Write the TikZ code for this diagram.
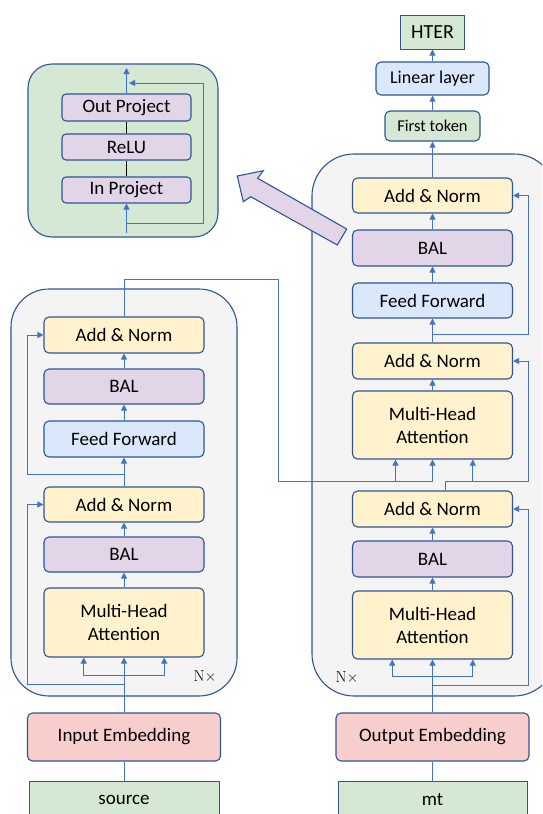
\documentclass[tikz,border=0pt]{standalone}
\usepackage{fontspec}
\setmainfont{Carlito}
\newfontfamily\lmfont{Latin Modern Roman}
\usetikzlibrary{calc}
\usetikzlibrary{arrows.meta}

\definecolor{edgeBlue}{RGB}{47,85,151}
\definecolor{flowBlue}{RGB}{68,114,196}
\definecolor{normYellow}{RGB}{255,242,204}
\definecolor{balPurple}{RGB}{225,213,231}
\definecolor{ffBlue}{RGB}{218,232,252}
\definecolor{embRed}{RGB}{248,206,204}
\definecolor{ioGreen}{RGB}{213,232,212}
\definecolor{stackGray}{RGB}{244,244,244}

\begin{document}
\begin{tikzpicture}[x=1pt,y=-1pt,
    % --- styles ---
    block/.style = {draw=edgeBlue, line width=1.1pt, fill=#1, rounded corners=5pt,
                    minimum width=160pt, minimum height=35pt, inner sep=0pt,
                    align=center, font=\fontsize{19}{23}\selectfont}, % layer box
    tag/.style   = {draw=edgeBlue, line width=1pt, fill=ioGreen, inner sep=0pt,
                    font=\fontsize{19}{23}\selectfont},               % input / output box
    stack/.style = {draw=edgeBlue, line width=1.1pt, fill=#1},        % container
    flow/.style  = {color=flowBlue, line width=1pt, -{Triangle[length=6pt,width=6pt]}}, % arrow
    link/.style  = {color=#1, line width=1pt}                         % plain line
    ]

    % --- frame ---
    \clip (0,0) rectangle (542,814);

    % --- containers ---
    \draw[stack=stackGray, rounded corners=38pt] (11,289) rectangle (237,696);   % encoder
    \draw[stack=stackGray, rounded corners=42pt] (312,154) rectangle (556,696);  % decoder
    \draw[stack=ioGreen, rounded corners=24pt] (28,64) rectangle (218,237);      % adapter

    % --- encoder ---
    \node[tag, minimum width=190pt, minimum height=38pt] (source) at (124,800) {source};
    \node[block=embRed, minimum width=193pt, minimum height=48pt] (inEmb) at (124,737) {Input Embedding};
    \node[block=normYellow, minimum height=69pt] (encMHA) at (124,622.5) {Multi-Head\\Attention};
    \node[block=balPurple] (encBAL1) at (124,554.5) {BAL};
    \node[block=normYellow] (encAN1) at (124,504.5) {Add \& Norm};
    \node[block=ffBlue, minimum height=36pt] (encFF) at (124,439) {Feed Forward};
    \node[block=balPurple] (encBAL2) at (124,386.5) {BAL};
    \node[block=normYellow, minimum height=36pt] (encAN2) at (124,335) {Add \& Norm};
    \node (encN) at (205,676) {\lmfont\fontsize{16}{18}\selectfont N×};

    % --- decoder ---
    \node[tag, minimum width=189pt, minimum height=38pt] (mt) at (432.5,800) {mt};
    \node[block=embRed, minimum width=193pt, minimum height=48pt] (outEmb) at (432.5,737) {Output Embedding};
    \node[block=normYellow, minimum height=68pt] (decMHA1) at (432.5,625) {Multi-Head\\Attention};
    \node[block=balPurple, minimum height=36pt] (decBAL1) at (432.5,559) {BAL};
    \node[block=normYellow, minimum height=36pt] (decAN1) at (432.5,509) {Add \& Norm};
    \node[block=normYellow, minimum height=68pt] (decMHA2) at (432.5,425) {Multi-Head\\Attention};
    \node[block=normYellow, minimum height=36pt] (decAN2) at (432.5,361) {Add \& Norm};
    \node[block=ffBlue] (decFF) at (432.5,300.5) {Feed Forward};
    \node[block=balPurple, minimum height=36pt] (decBAL2) at (432.5,248) {BAL};
    \node[block=normYellow] (decAN3) at (432.5,195.5) {Add \& Norm};
    \node (decN) at (347,677) {\lmfont\fontsize{16}{18}\selectfont N×};

    % --- head ---
    \node[block=ioGreen, minimum width=95pt, minimum height=30pt, font=\fontsize{16.5}{20}\selectfont] (firstTok) at (432.5,126) {First token};
    \node[block=ffBlue, minimum width=113pt, minimum height=33pt, font=\fontsize{18}{22}\selectfont] (linear) at (432.5,78.5) {Linear layer};
    \node[tag, minimum width=64pt, minimum height=34pt, font=\fontsize{20}{24}\selectfont] (hter) at (432.5,32) {HTER};

    % --- adapter ---
    \node[block=balPurple, minimum width=129pt, minimum height=26pt, rounded corners=4pt] (inProj) at (126.5,190) {In Project};
    \node[block=balPurple, minimum width=129pt, minimum height=26pt, rounded corners=4pt] (relu) at (126.5,147) {ReLU};
    \node[block=balPurple, minimum width=129pt, minimum height=27pt, rounded corners=4pt] (outProj) at (126.5,107.5) {Out Project};

    % --- helper coordinates ---
    \coordinate (crossY) at (0,481.5);
    \coordinate (encSplit) at (124,675);
    \coordinate (encRes1) at (124,684);
    \coordinate (encRes2) at (124,474);
    \coordinate (decSplit) at (432.5,676);
    \coordinate (decRes1) at (432.5,685);
    \coordinate (decRes2) at (432.5,334);
    \coordinate (ffIn) at (126.5,233);
    \coordinate (ffRes) at (126.5,223);
    \coordinate (ffJoin) at (129,83);
    \coordinate (ffTop) at (126.5,68);
    \path ($(decMHA2.south west)!0.27!(decMHA2.south east)$) coordinate (mhaKey);
    \path ($(decMHA2.south west)!0.5!(decMHA2.south east)$) coordinate (mhaVal);
    \path ($(decMHA2.south west)!0.75!(decMHA2.south east)$) coordinate (mhaQuery);
    \path ($(decAN1.north west)!0.58!(decAN1.north east)$) coordinate (decOut1);

    % --- encoder connections ---
    \draw[link=flowBlue] (source) -- (inEmb);
    \draw[flow] (inEmb) -- (encMHA);
    \draw[flow] (encSplit) -| ($(encMHA.south west)!0.25!(encMHA.south east)$);
    \draw[flow] (encSplit) -| ($(encMHA.south west)!0.75!(encMHA.south east)$);
    \draw[flow] (encRes1) -| ($(encAN1.west)+(-16,0)$) -- (encAN1.west);
    \draw[flow] (encMHA) -- (encBAL1);
    \draw[flow] (encBAL1) -- (encAN1);
    \draw[flow] (encAN1) -- (encFF);
    \draw[flow] (encRes2) -| ($(encAN2.west)+(-16,0)$) -- (encAN2.west);
    \draw[flow] (encFF) -- (encBAL2);
    \draw[flow] (encBAL2) -- (encAN2);

    % --- encoder to decoder ---
    \draw[flow] (encAN2.north) |- (278,279) |- (mhaVal |- crossY) -- (mhaVal);
    \draw[flow] (mhaKey |- crossY) -- (mhaKey);

    % --- decoder connections ---
    \draw[link=flowBlue] (mt) -- (outEmb);
    \draw[flow] (outEmb) -- (decMHA1);
    \draw[flow] (decSplit) -| ($(decMHA1.south west)!0.25!(decMHA1.south east)$);
    \draw[flow] (decSplit) -| ($(decMHA1.south west)!0.75!(decMHA1.south east)$);
    \draw[flow] (decRes1) -| ($(decAN1.east)+(15,0)$) -- (decAN1.east);
    \draw[flow] (decMHA1) -- (decBAL1);
    \draw[flow] (decBAL1) -- (decAN1);
    \draw[flow] (decOut1) -- (decOut1 |- crossY) -| ($(decAN2.east)+(15,0)$) -- (decAN2.east);
    \draw[flow] (mhaQuery |- crossY) -- (mhaQuery);
    \draw[flow] (decMHA2) -- (decAN2);
    \draw[flow] (decAN2) -- (decFF);
    \draw[flow] (decRes2) -| ($(decAN3.east)+(15,0)$) -- (decAN3.east);
    \draw[flow] (decFF) -- (decBAL2);
    \draw[flow] (decBAL2) -- (decAN3);

    % --- head connections ---
    \draw[flow] (decAN3) -- (firstTok);
    \draw[flow] (firstTok) -- (linear);
    \draw[flow] (linear) -- (hter);

    % --- adapter connections ---
    \draw[link=black] (inProj) -- (relu);
    \draw[link=black] (relu) -- (outProj);
    \draw[flow] (ffIn) -- (inProj);
    \draw[flow] (ffRes) -| (203,83) -- (ffJoin);
    \draw[flow] (outProj) -- (ffTop);

    % --- zoom arrow ---
    \draw[edgeBlue, line width=1.1pt, fill=balPurple]
        (237.3,176) -- (263.3,170.7) -- (257.7,178.3) -- (346.7,229)
        -- (337.3,245) -- (250.7,196.7) -- (243.3,201.7) -- cycle;
\end{tikzpicture}
\end{document}
